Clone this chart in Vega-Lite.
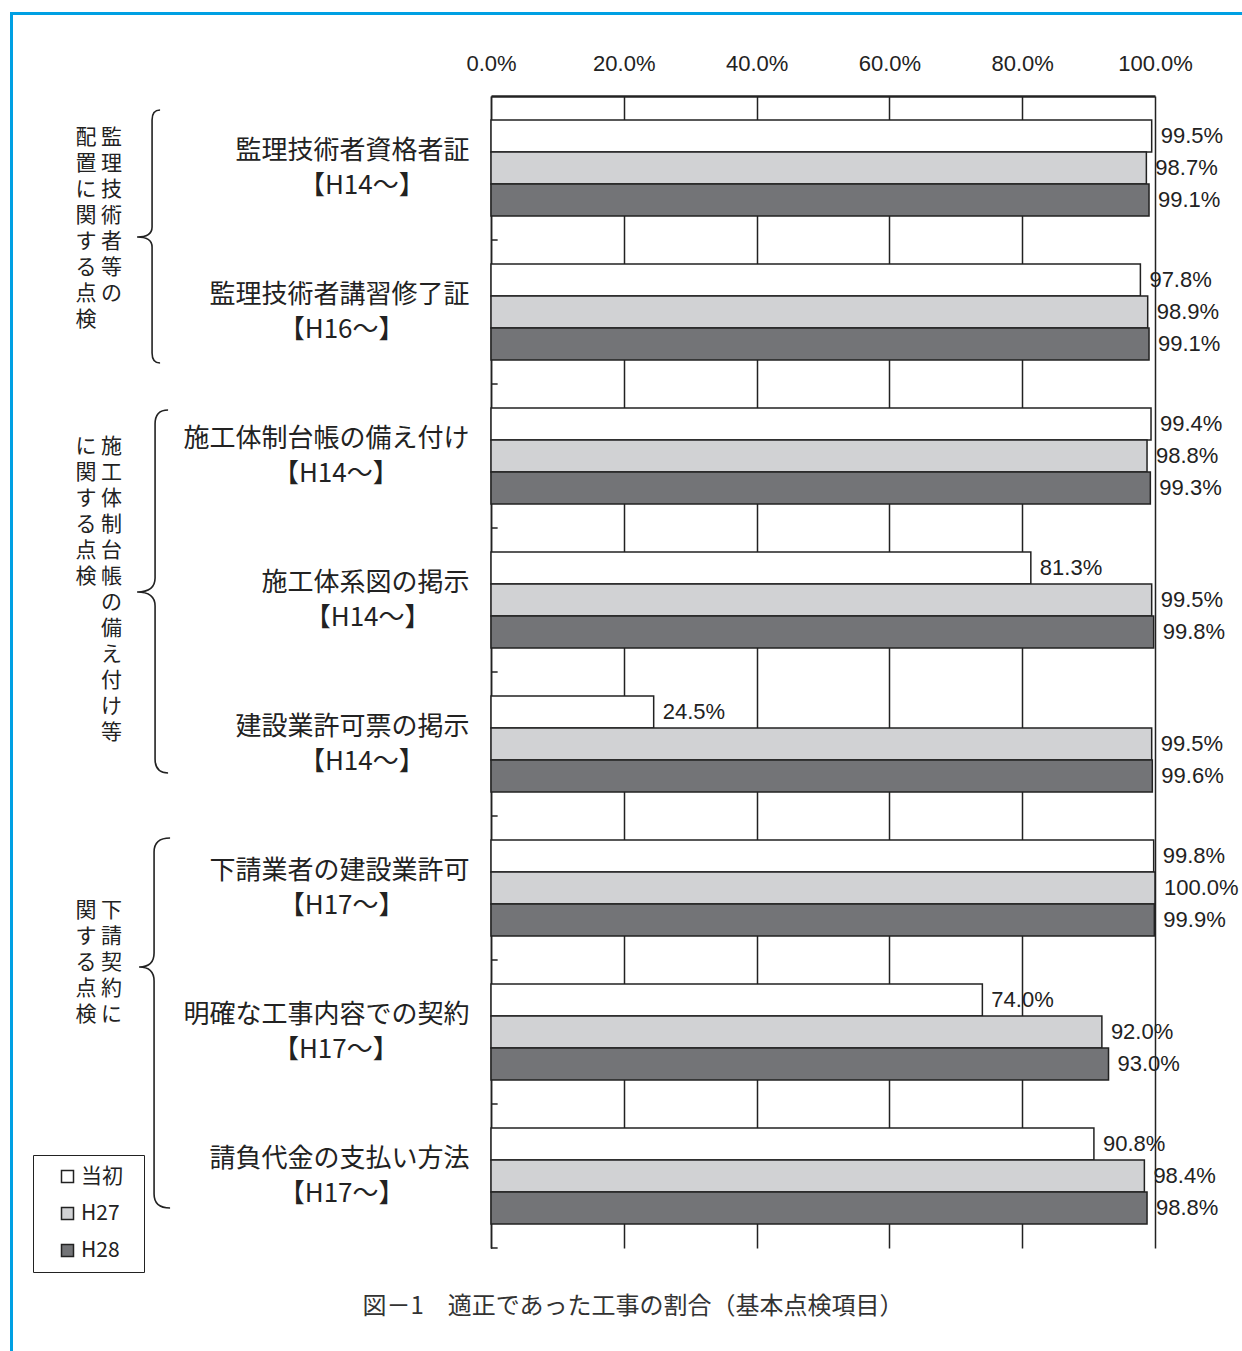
{
  "$schema": "https://vega.github.io/schema/vega-lite/v6.json",
  "padding": {"left": 10, "top": 12, "right": 0, "bottom": 0},
  "background": "white",
  "bounds": "full",
  "spacing": 0,
  "datasets": {
    "bars": [
      {"item": "監理技術者資格者証|【H14～】", "year": "当初", "value": 0.995},
      {"item": "監理技術者資格者証|【H14～】", "year": "H27", "value": 0.987},
      {"item": "監理技術者資格者証|【H14～】", "year": "H28", "value": 0.991},
      {"item": "監理技術者講習修了証|【H16～】", "year": "当初", "value": 0.978},
      {"item": "監理技術者講習修了証|【H16～】", "year": "H27", "value": 0.989},
      {"item": "監理技術者講習修了証|【H16～】", "year": "H28", "value": 0.991},
      {"item": "施工体制台帳の備え付け|【H14～】", "year": "当初", "value": 0.994},
      {"item": "施工体制台帳の備え付け|【H14～】", "year": "H27", "value": 0.988},
      {"item": "施工体制台帳の備え付け|【H14～】", "year": "H28", "value": 0.993},
      {"item": "施工体系図の掲示|【H14～】", "year": "当初", "value": 0.813},
      {"item": "施工体系図の掲示|【H14～】", "year": "H27", "value": 0.995},
      {"item": "施工体系図の掲示|【H14～】", "year": "H28", "value": 0.998},
      {"item": "建設業許可票の掲示|【H14～】", "year": "当初", "value": 0.245},
      {"item": "建設業許可票の掲示|【H14～】", "year": "H27", "value": 0.995},
      {"item": "建設業許可票の掲示|【H14～】", "year": "H28", "value": 0.996},
      {"item": "下請業者の建設業許可|【H17～】", "year": "当初", "value": 0.998},
      {"item": "下請業者の建設業許可|【H17～】", "year": "H27", "value": 1.0},
      {"item": "下請業者の建設業許可|【H17～】", "year": "H28", "value": 0.999},
      {"item": "明確な工事内容での契約|【H17～】", "year": "当初", "value": 0.74},
      {"item": "明確な工事内容での契約|【H17～】", "year": "H27", "value": 0.92},
      {"item": "明確な工事内容での契約|【H17～】", "year": "H28", "value": 0.93},
      {"item": "請負代金の支払い方法|【H17～】", "year": "当初", "value": 0.908},
      {"item": "請負代金の支払い方法|【H17～】", "year": "H27", "value": 0.984},
      {"item": "請負代金の支払い方法|【H17～】", "year": "H28", "value": 0.988}
    ],
    "groupText": [
      {"group": "g1", "col": "L", "text": "配|置|に|関|す|る|点|検", "pos": 0.212},
      {"group": "g1", "col": "R", "text": "監|理|技|術|者|等|の", "pos": 0.212},
      {"group": "g2", "col": "L", "text": "に|関|す|る|点|検", "pos": 2.358},
      {"group": "g2", "col": "R", "text": "施|工|体|制|台|帳|の|備|え|付|け|等", "pos": 2.358},
      {"group": "g3", "col": "L", "text": "関|す|る|点|検", "pos": 5.58},
      {"group": "g3", "col": "R", "text": "下|請|契|約|に", "pos": 5.58}
    ],
    "braces": [
      {"group": "g1", "col": "B", "pos": 0.979},
      {"group": "g2", "col": "B", "pos": 3.444},
      {"group": "g3", "col": "B", "pos": 6.049}
    ]
  },
  "config": {
    "view": {"stroke": null},
    "font": "Noto Sans CJK JP",
    "axisX": {
      "orient": "top",
      "grid": true,
      "gridColor": "#222222",
      "gridWidth": 1.5,
      "gridOpacity": 1,
      "ticks": false,
      "domain": true,
      "domainColor": "#222222",
      "domainWidth": 2.5,
      "labelPadding": 21,
      "labelFontSize": 22,
      "labelFont": "Liberation Sans",
      "labelColor": "#222222",
      "labelFlush": false
    },
    "axisY": {
      "domain": true,
      "domainColor": "#222222",
      "domainWidth": 1.5,
      "ticks": false,
      "grid": false,
      "labelPadding": 22,
      "labelLimit": 0,
      "labelFontSize": 26,
      "labelLineHeight": 35,
      "labelBaseline": "middle",
      "labelAlign": "right",
      "labelOffset": -17,
      "labelColor": "#222222",
      "labelFont": "Noto Sans CJK JP",
      "labelExpr": "[split(datum.label, '|')[0], split(datum.label, '|')[1] + pad('', floor((length(split(datum.label, '|')[0]) - 4) / 2), '　') + (length(split(datum.label, '|')[0]) % 2 == 1 ? ' ' : '') + '\u200b']"
    }
  },
  "vconcat": [
    {
      "width": 1232,
      "height": 3,
      "view": {"fill": "#00a0e3", "stroke": null},
      "data": {"values": []},
      "mark": "point"
    },
    {
      "bounds": "flush",
      "center": true,
      "spacing": 50,
      "hconcat": [
        {
          "width": 3,
          "height": 1314,
          "view": {"fill": "#00a0e3", "stroke": null},
          "data": {"values": []},
          "mark": "point"
        },
        {
          "width": 378,
          "height": 1152,
          "layer": [
            {
              "data": {"name": "groupText"},
              "mark": {"type": "text", "baseline": "top", "align": "center", "lineBreak": "|", "fontSize": 21, "lineHeight": 26, "font": "Noto Sans CJK JP", "fill": "#222222"},
              "encoding": {
                "x": {"field": "col", "type": "nominal", "scale": {"type": "point", "domain": ["L", "R", "B", "x1", "x2", "x3", "x4", "x5", "x6", "x7", "x8", "x9", "x10", "x11"], "padding": 0.9}, "axis": null},
                "y": {"field": "pos", "type": "quantitative", "scale": {"domain": [0, 8], "reverse": true, "nice": false, "zero": false}, "axis": null},
                "text": {"field": "text"}
              }
            },
            {
              "data": {"name": "braces"},
              "transform": [{"filter": "datum.group == 'g1'"}],
              "mark": {"type": "point", "filled": false, "stroke": "#222222", "strokeWidth": 1.6, "opacity": 1, "size": 40000,
                "shape": "M 0.23 -1.27 Q 0.15 -1.27 0.15 -1.17 L 0.15 -0.1 Q 0.15 0 0 0 Q 0.15 0 0.15 0.1 L 0.15 1.16 Q 0.15 1.26 0.23 1.26"},
              "encoding": {
                "x": {"field": "col", "type": "nominal", "axis": null},
                "y": {"field": "pos", "type": "quantitative", "axis": null}
              }
            },
            {
              "data": {"name": "braces"},
              "transform": [{"filter": "datum.group == 'g2'"}],
              "mark": {"type": "point", "filled": false, "stroke": "#222222", "strokeWidth": 1.6, "opacity": 1, "size": 40000,
                "shape": "M 0.31 -1.82 Q 0.18 -1.82 0.18 -1.68 L 0.18 -0.14 Q 0.18 0 0 0 Q 0.18 0 0.18 0.14 L 0.18 1.67 Q 0.18 1.81 0.31 1.81"},
              "encoding": {
                "x": {"field": "col", "type": "nominal", "axis": null},
                "y": {"field": "pos", "type": "quantitative", "axis": null}
              }
            },
            {
              "data": {"name": "braces"},
              "transform": [{"filter": "datum.group == 'g3'"}],
              "mark": {"type": "point", "filled": false, "stroke": "#222222", "strokeWidth": 1.6, "opacity": 1, "size": 40000,
                "shape": "M 0.33 -1.29 Q 0.17 -1.29 0.17 -1.15 L 0.17 -0.14 Q 0.17 0 0.02 0 Q 0.17 0 0.17 0.14 L 0.17 2.27 Q 0.17 2.41 0.33 2.41"},
              "encoding": {
                "x": {"field": "col", "type": "nominal", "axis": null},
                "y": {"field": "pos", "type": "quantitative", "axis": null}
              }
            }
          ]
        },
        {
          "width": 664,
          "height": 1152,
          "title": {
            "text": "図－1　適正であった工事の割合（基本点検項目）",
            "orient": "bottom",
            "anchor": "middle",
            "frame": "group",
            "font": "Noto Sans CJK JP",
            "fontSize": 24,
            "fontWeight": "normal",
            "color": "#333333",
            "offset": 46,
            "dx": -190
          },
          "data": {"name": "bars"},
          "layer": [
            {
              "mark": {"type": "bar", "stroke": "#222222", "strokeWidth": 1.5},
              "encoding": {
                "y": {"field": "item", "type": "nominal", "sort": null, "scale": {"paddingInner": 0.3333, "paddingOuter": 0.1667}, "axis": {"title": null}},
                "yOffset": {"field": "year", "type": "nominal", "sort": ["当初", "H27", "H28"], "scale": {"paddingInner": 0, "paddingOuter": 0}},
                "x": {"field": "value", "type": "quantitative", "scale": {"domain": [0, 1], "nice": false}, "axis": {"title": null, "values": [0, 0.2, 0.4, 0.6, 0.8, 1], "format": ".1%"}},
                "color": {
                  "field": "year", "type": "nominal",
                  "scale": {"domain": ["当初", "H27", "H28"], "range": ["#ffffff", "#d1d2d4", "#737477"]},
                  "legend": {
                    "title": null, "orient": "none", "legendX": 23, "legendY": 1143,
                    "symbolType": "square", "symbolSize": 144, "symbolStrokeColor": "#222222", "symbolStrokeWidth": 1.5,
                    "labelFontSize": 21, "labelFont": "Noto Sans CJK JP", "labelColor": "#222222", "rowPadding": 15, "padding": 11,
                    "strokeColor": "#222222", "fillColor": "#ffffff", "symbolOffset": 13, "labelOffset": 3,
                    "labelExpr": "datum.label + '  \u200b'"
                  }
                }
              }
            },
            {
              "mark": {"type": "text", "align": "left", "baseline": "middle", "dx": 9, "fontSize": 22, "font": "Liberation Sans", "fill": "#222222"},
              "encoding": {
                "y": {"field": "item", "type": "nominal", "sort": null, "axis": {"title": null}},
                "yOffset": {"field": "year", "type": "nominal", "sort": ["当初", "H27", "H28"]},
                "x": {"field": "value", "type": "quantitative", "axis": {"title": null}},
                "text": {"field": "value", "format": ".1%"}
              }
            },
            {
              "transform": [{"filter": "datum.year == '当初'"}],
              "mark": {"type": "rule", "stroke": "#222222", "strokeWidth": 1.5},
              "encoding": {
                "y": {"field": "item", "type": "nominal", "sort": null, "bandPosition": 1.25, "axis": {"title": null}},
                "x": {"datum": 0},
                "x2": {"datum": 0.01}
              }
            }
          ]
        }
      ]
    },
    {
      "width": 3,
      "height": 30,
      "view": {"fill": "#00a0e3", "stroke": null},
      "data": {"values": []},
      "mark": "point"
    }
  ]
}
